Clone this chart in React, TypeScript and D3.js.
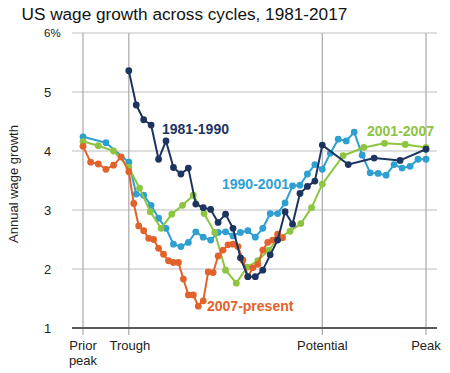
import React from 'react';
import * as d3 from 'd3';

// cycle phases along the x axis
const phases = ['Prior peak', 'Trough', 'Potential', 'Peak'];
const yTicks = [1, 2, 3, 4, 5, 6];

// 1981-1990 (starts at trough)
const c8190Mid = [5.36, 4.78, 4.53, 4.44, 3.86, 4.17, 3.72, 3.61, 3.71, 3.10, 3.04, 3.01, 2.79, 2.93, 2.69, 2.19, 1.87, 1.87, 1.98, 2.24, 2.49, 2.97, 2.76, 3.28, 3.40, 3.49];
const c8190Post = [4.10, 3.77, 3.88, 3.84, 4.03];

// 1990-2001
const c9001Pre = [4.24, 4.14];
const c9001Mid = [3.81, 3.27, 3.25, 3.08, 2.86, 2.69, 2.42, 2.38, 2.45, 2.63, 2.54, 2.49, 2.62, 2.63, 2.56, 2.62, 2.65, 2.54, 2.69, 2.94, 2.94, 3.12, 3.41, 3.42, 3.61, 3.77];
const c9001Post = [3.69, 3.96, 4.20, 4.17, 4.32, 3.93, 3.63, 3.62, 3.59, 3.77, 3.71, 3.74, 3.86, 3.86];

// 2001-2007
const c0107Pre = [4.16, 4.09, 4.00];
const c0107Mid = [3.72, 3.37, 2.97, 2.69, 2.93, 3.08, 3.25, 2.94, 2.62, 1.98, 1.76, 2.03, 2.14, 2.32, 2.53, 2.64, 2.77, 3.04];
const c0107Post = [3.44, 3.92, 4.06, 4.13, 4.11, 4.06];

// 2007-present
const c07Pre = [4.08, 3.81, 3.78, 3.69, 3.76, 3.90];
const c07Mid = [3.65, 3.11, 2.73, 2.65, 2.52, 2.50, 2.35, 2.25, 2.14, 2.11, 2.11, 1.83, 1.56, 1.56, 1.37, 1.46, 1.95, 1.94, 2.22, 2.32, 2.41, 2.42, 2.38, 2.15, 1.87, 2.02, 2.08, 2.32, 2.45, 2.49, 2.59, 2.53];

type Pt = { x: number; v: number };

// values spread evenly through a phase: start phase, number of steps in that phase
const seg = (start: number, steps: number, values: number[]): Pt[] =>
  values.map((v, i) => ({ x: start + i / steps, v }));

const series = [
  { name: '1990-2001', color: '#2e9fd1', points: [...seg(0, 2, c9001Pre), ...seg(1, 26, c9001Mid), ...seg(2, 13, c9001Post)], label: [222, 189] },
  { name: '2001-2007', color: '#8dc440', points: [...seg(0, 3, c0107Pre), ...seg(1, 18, c0107Mid), ...seg(2, 5, c0107Post)], label: [367, 136] },
  { name: '2007-present', color: '#e2622b', points: [...seg(0, 6, c07Pre), ...seg(1, 39, c07Mid)], label: [207, 311] },
  { name: '1981-1990', color: '#1d3461', points: [...seg(1, 26, c8190Mid), ...seg(2, 4, c8190Post)], label: [162, 134] },
];

const font = "Arial, 'Liberation Sans', sans-serif";

export default function App() {
  const width = 450;
  const height = 373;

  const x = d3.scaleLinear().domain([0, 1, 2, 3]).range([83, 128.8, 322.3, 426]);
  const y = d3.scaleLinear().domain([1, 6]).range([328, 33]);

  const line = d3.line<Pt>()
    .x(d => x(d.x))
    .y(d => y(d.v));

  return (
    <svg width={width} height={height} style={{ position: 'absolute', left: 0, top: 0, background: '#fff' }} fontFamily={font}>
      <text x={21.5} y={19.5} fontSize={17.2} fill="#111">US wage growth across cycles, 1981-2017</text>

      {yTicks.filter(t => t > 1).map(t => (
        <line key={t} x1={72} x2={437} y1={y(t)} y2={y(t)} stroke="#bdbdbd" strokeWidth={1.2} />
      ))}
      {phases.map((p, i) => (
        <line key={p} x1={x(i)} x2={x(i)} y1={y(6)} y2={335} stroke="#a8a8a8" strokeWidth={1.2} />
      ))}
      <line x1={72} x2={437} y1={y(1)} y2={y(1)} stroke="#595959" strokeWidth={2} />

      {yTicks.map(t => (
        <text key={t} x={44} y={y(t) + (t === 6 ? 4 : 5)} fontSize={t === 6 ? 11.5 : 13} fill="#222">
          {t === 6 ? '6%' : t}
        </text>
      ))}
      <text transform="translate(18,184) rotate(-90)" textAnchor="middle" fontSize={13} fill="#222">Annual wage growth</text>

      <text x={x(0)} y={349.5} textAnchor="middle" fontSize={13} fill="#222">Prior</text>
      <text x={x(0)} y={365} textAnchor="middle" fontSize={13} fill="#222">peak</text>
      <text x={x(1) + 1} y={349.5} textAnchor="middle" fontSize={13} fill="#222">Trough</text>
      <text x={x(2)} y={349.5} textAnchor="middle" fontSize={13} fill="#222">Potential</text>
      <text x={x(3)} y={349.5} textAnchor="middle" fontSize={13} fill="#222">Peak</text>

      {series.map(s => (
        <g key={s.name}>
          <path d={line(s.points) || ''} fill="none" stroke={s.color} strokeWidth={2} strokeLinejoin="round" />
          {s.points.map((p, i) => (
            <circle key={i} cx={x(p.x)} cy={y(p.v)} r={3.4} fill={s.color} />
          ))}
        </g>
      ))}

      {series.map(s => (
        <text key={s.name} x={s.label[0]} y={s.label[1]} fontSize={14} fontWeight="bold" fill={s.color}>{s.name}</text>
      ))}
    </svg>
  );
}
